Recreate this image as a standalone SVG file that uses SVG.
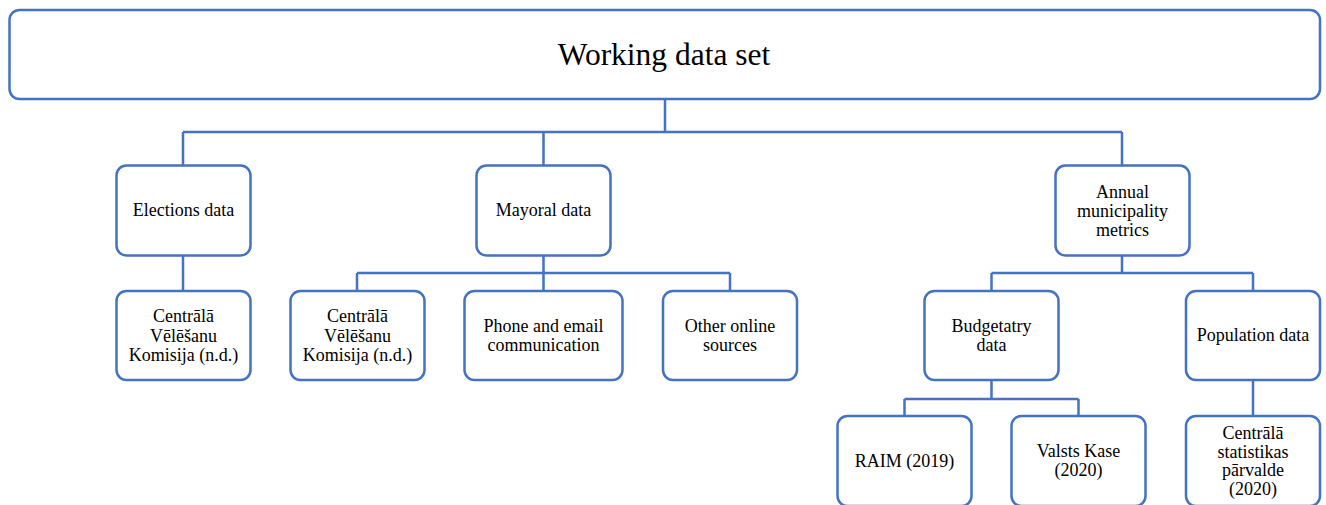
<svg xmlns="http://www.w3.org/2000/svg" width="1326" height="505" viewBox="0 0 1326 505">
<style>
.box{fill:#fff;stroke:#4472C4;stroke-width:2.5}
.con{fill:none;stroke:#4472C4;stroke-width:2.5}
text{font-family:'Liberation Serif','Times New Roman',Times,'DejaVu Serif',serif;fill:#000;text-anchor:middle;font-size:18px}
.title{font-size:31.5px}
</style>
<rect width="1326" height="505" fill="#fff"/>
<g id="connectors">
<path class="con" d="M665 99V132M183 132H1122M183 132V165M543.5 132V165M1122 132V165"/>
<path class="con" d="M183 255V291"/>
<path class="con" d="M543.5 255V291M357 273H730M357 273V291M730 273V291"/>
<path class="con" d="M1122 255V273M991.5 273H1253M991.5 273V291M1253 273V291"/>
<path class="con" d="M991.5 380V399M904.5 399H1078.5M904.5 399V416M1078.5 399V416"/>
<path class="con" d="M1253 380V416"/>
</g>
<g id="working">
<rect class="box" x="9.5" y="10" width="1310.5" height="89" rx="10"/>
<text class="title" x="664" y="65" font-family="Liberation Serif">Working data set</text>
</g>
<g id="elections">
<rect class="box" x="116.5" y="165.5" width="134" height="90" rx="10"/>
<text x="183.5" y="216">Elections data</text>
</g>
<g id="cvk1">
<rect class="box" x="116.5" y="291" width="134" height="89" rx="10"/>
<text x="183.5" y="322">Centrālā</text>
<text x="183.5" y="341.5">Vēlēšanu</text>
<text x="183.5" y="361">Komisija (n.d.)</text>
</g>
<g id="mayoral">
<rect class="box" x="476.5" y="165.5" width="134" height="90" rx="10"/>
<text x="543.5" y="216">Mayoral data</text>
</g>
<g id="cvk2">
<rect class="box" x="290.5" y="291" width="134" height="89" rx="10"/>
<text x="357.5" y="322">Centrālā</text>
<text x="357.5" y="341.5">Vēlēšanu</text>
<text x="357.5" y="361">Komisija (n.d.)</text>
</g>
<g id="phone">
<rect class="box" x="464.5" y="291" width="158" height="89" rx="10"/>
<text x="543.5" y="332">Phone and email</text>
<text x="543.5" y="351">communication</text>
</g>
<g id="online">
<rect class="box" x="663" y="291" width="134" height="89" rx="10"/>
<text x="730" y="332">Other online</text>
<text x="730" y="351">sources</text>
</g>
<g id="annual">
<rect class="box" x="1055.5" y="165.5" width="134" height="90" rx="10"/>
<text x="1122.5" y="197.5">Annual</text>
<text x="1122.5" y="217">municipality</text>
<text x="1122.5" y="236">metrics</text>
</g>
<g id="budget">
<rect class="box" x="924.5" y="291" width="134" height="89" rx="10"/>
<text x="991.5" y="332">Budgetatry</text>
<text x="991.5" y="351">data</text>
</g>
<g id="population">
<rect class="box" x="1186" y="291" width="134" height="89" rx="10"/>
<text x="1253" y="341">Population data</text>
</g>
<g id="raim">
<rect class="box" x="837.5" y="416" width="134" height="90" rx="10"/>
<text x="904.5" y="467">RAIM (2019)</text>
</g>
<g id="kase">
<rect class="box" x="1011.5" y="416" width="134" height="90" rx="10"/>
<text x="1078.5" y="457">Valsts Kase</text>
<text x="1078.5" y="476">(2020)</text>
</g>
<g id="csp">
<rect class="box" x="1186" y="416" width="134" height="90" rx="10"/>
<text x="1253" y="438.5">Centrālā</text>
<text x="1253" y="457.5">statistikas</text>
<text x="1253" y="476">pārvalde</text>
<text x="1253" y="495">(2020)</text>
</g>
</svg>
